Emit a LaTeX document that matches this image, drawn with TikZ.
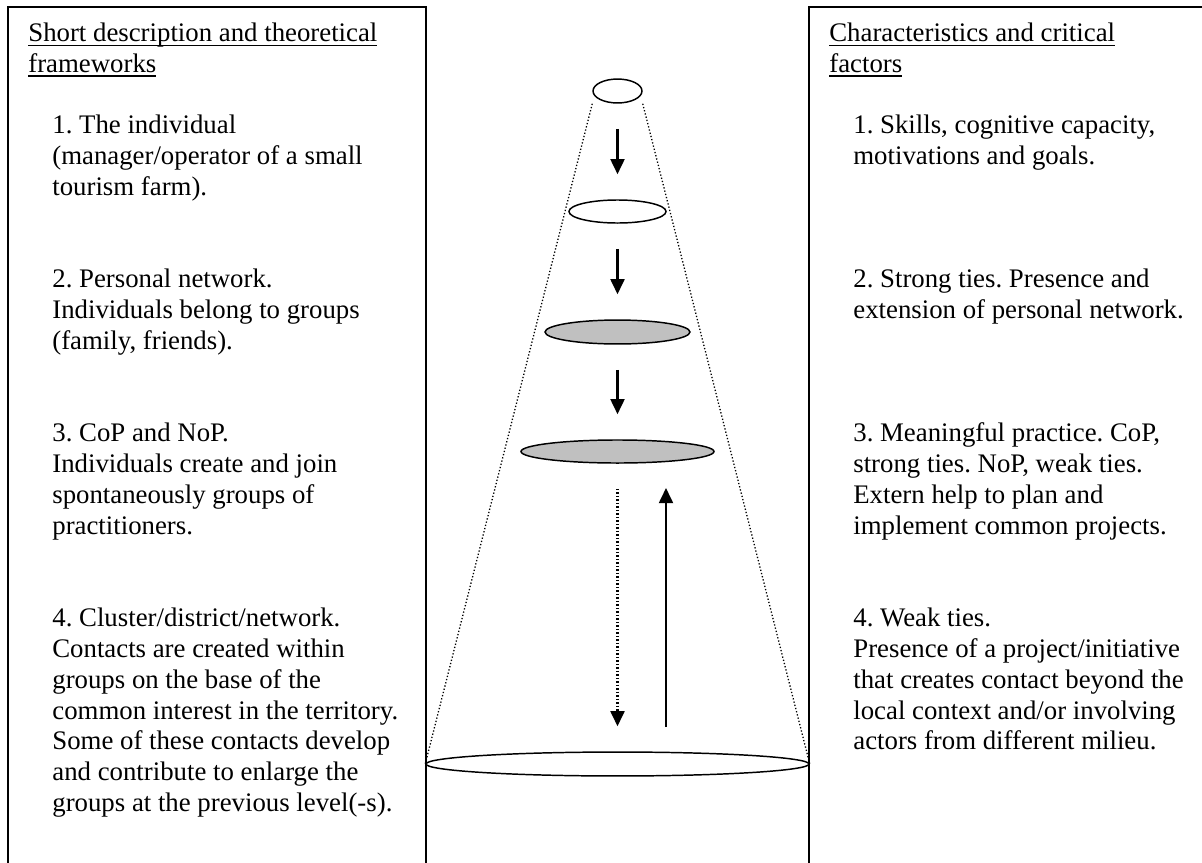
\documentclass[tikz,border=0pt]{standalone}
\usepackage{fontspec}
\setmainfont{Liberation Serif}
\usetikzlibrary{arrows.meta,shapes.geometric}

\frenchspacing
\newcommand\undr[1]{\setbox0=\hbox{#1}\rlap{\rule[-2.6pt]{\wd0}{0.85pt}}\box0}
\definecolor{levelgray}{RGB}{192,192,192}

\begin{document}
\begin{tikzpicture}[x=0.543pt, y=-0.543pt,
    txt/.style={anchor=north west, inner sep=0pt, align=left,
      font=\fontsize{14.55}{16.72}\selectfont},
    frame/.style={line width=1.1pt},
    level/.style={draw, ellipse, line width=0.8pt, inner sep=0pt},
    shaded/.style={level, fill=levelgray},
    flow/.style={line width=1.1pt, -{Triangle[width=7.6pt,length=8.2pt]},
      shorten <=13.6pt, shorten >=13.6pt},
    cone/.style={line width=0.7pt, dash pattern=on 0.7pt off 1.1pt}]

  \useasboundingbox (0,0) rectangle (1202,863);

  % Side boxes (open at the bottom, right one open at the right)
  \draw[frame] (8,863) |- (426,7) -- (426,863);
  \draw[frame] (809,863) |- (1202,7);

  % Left column
  \node[txt] (hl) at (28,19.5) {\strut\undr{Short description and theoretical}\\\undr{frameworks}};
  \node[txt] (l1t) at (52,111.9) {\strut 1. The individual\\(manager/operator of a small\\tourism farm).};
  \node[txt] (l2t) at (52,265.9) {\strut 2. Personal network.\\Individuals belong to groups\\(family, friends).};
  \node[txt] (l3t) at (52,419.9) {\strut 3. CoP and NoP.\\Individuals create and join\\spontaneously groups of\\practitioners.};
  \node[txt] (l4t) at (52,604.7) {\strut 4. Cluster/district/network.\\Contacts are created within\\groups on the base of the\\common interest in the territory.\\Some of these contacts develop\\and contribute to enlarge the\\groups at the previous level(-s).};

  % Right column
  \node[txt] (hr) at (829,19.5) {\strut\undr{Characteristics and critical}\\\undr{factors}};
  \node[txt] (r1t) at (853,111.9) {\strut 1. Skills, cognitive capacity,\\motivations and goals.};
  \node[txt] (r2t) at (853,265.9) {\strut 2. Strong ties. Presence and\\extension of personal network.};
  \node[txt] (r3t) at (853,419.9) {\strut 3. Meaningful practice. CoP,\\strong ties. NoP, weak ties.\\Extern help to plan and\\implement common projects.};
  \node[txt] (r4t) at (853,604.7) {\strut 4. Weak ties.\\Presence of a project/initiative\\that creates contact beyond the\\local context and/or involving\\actors from different milieu.};

  % Levels of the cone
  \node[level, minimum width=26.6pt, minimum height=13pt] (lv1) at (617.5,91) {};
  \node[level, minimum width=52.7pt, minimum height=12.5pt] (lv2) at (617.5,211.5) {};
  \node[shaded, minimum width=78.7pt, minimum height=13pt] (lv3) at (617.5,332) {};
  \node[shaded, minimum width=104.8pt, minimum height=12.5pt] (lv4) at (617.5,451.5) {};
  \node[level, minimum width=208pt, minimum height=13pt] (lv5) at (617.5,764) {};

  % Cone sides
  \draw[cone] (lv1.west |- lv1.south) -- (lv5.west);
  \draw[cone] (lv1.east |- lv1.south) -- (lv5.east);

  % Arrows between levels
  \draw[flow] (lv1) -- (lv2);
  \draw[flow] (lv2) -- (lv3);
  \draw[flow] (lv3) -- (lv4);
  \draw[flow, dash pattern=on 0.9pt off 1pt] (lv4) -- (lv5);

  % Feedback arrow
  \coordinate (fb) at (666,727);
  \coordinate (ft) at (666,488);
  \draw[flow, shorten <=0pt, shorten >=0pt] (fb) -- (ft);
\end{tikzpicture}
\end{document}
